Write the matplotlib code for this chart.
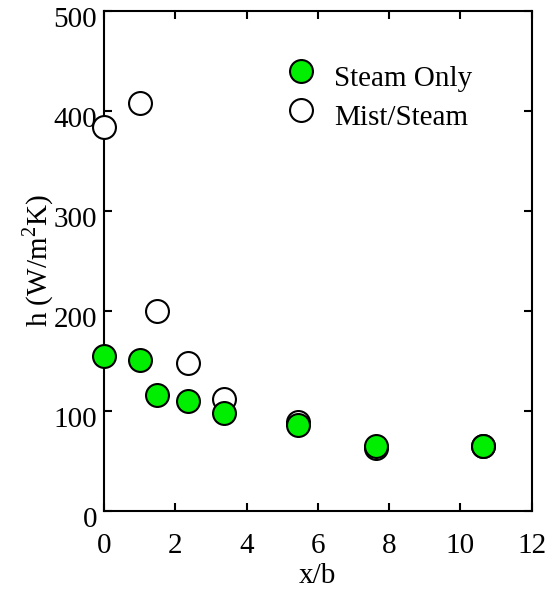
import matplotlib
matplotlib.use("Agg")
import matplotlib.pyplot as plt
from matplotlib.transforms import ScaledTranslation

plt.rcParams['font.family'] = ['Liberation Serif', 'DejaVu Serif']
plt.rcParams['mathtext.fontset'] = 'custom'
plt.rcParams['mathtext.rm'] = 'Liberation Serif'

# heat transfer coefficient along the wall
x_steam = [0, 1.0, 1.5, 2.36, 3.36, 5.45, 7.63, 10.64]
h_steam = [155, 151, 116, 110, 98, 86, 65, 65]

x_mist = [0, 1.0, 1.5, 2.36, 3.36, 5.45, 7.63, 10.64]
h_mist = [384, 408, 200, 148, 112, 89, 63, 65]

fig = plt.figure(figsize=(5.53, 5.98), dpi=100)
ax = fig.add_axes([0.188, 0.146, 0.7735, 0.8355])

ms = 16.5
mist, = ax.plot(x_mist, h_mist, 'o', ms=ms, mfc='white', mec='black', mew=1.5,
                label='Mist/Steam', clip_on=False, zorder=3)
steam, = ax.plot(x_steam, h_steam, 'o', ms=ms, mfc='#00ee00', mec='black', mew=1.5,
                 label='Steam Only', clip_on=False, zorder=4)

ax.set_xlim(0, 12)
ax.set_ylim(0, 500)
ax.set_xticks(range(0, 13, 2))
ax.set_yticks(range(0, 501, 100))

ax.tick_params(direction='in', length=6, width=1.5, top=True, right=True,
               labelsize=21)
ax.tick_params(axis='x', pad=16)
ax.tick_params(axis='y', pad=5)
for s in ax.spines.values():
    s.set_linewidth(1.5)

# y labels sit a little below their ticks
down = ScaledTranslation(0, -0.06, fig.dpi_scale_trans)
for lab in ax.get_yticklabels():
    lab.set_transform(lab.get_transform() + down)

ax.set_xlabel('x/b', fontsize=21, labelpad=3)
ax.set_ylabel(r'h (W/m$^2$K)', fontsize=21, labelpad=-2)

leg = ax.legend([steam, mist], ['Steam Only', 'Mist/Steam'], frameon=False,
                loc='upper left', bbox_to_anchor=(0.365, 0.954), fontsize=21,
                handlelength=1.0, handletextpad=0.63, labelspacing=0.45)
for t in leg.get_texts():
    t.set_transform(t.get_transform() + ScaledTranslation(0, -0.05, fig.dpi_scale_trans))

fig.savefig('out.png', dpi=100)
